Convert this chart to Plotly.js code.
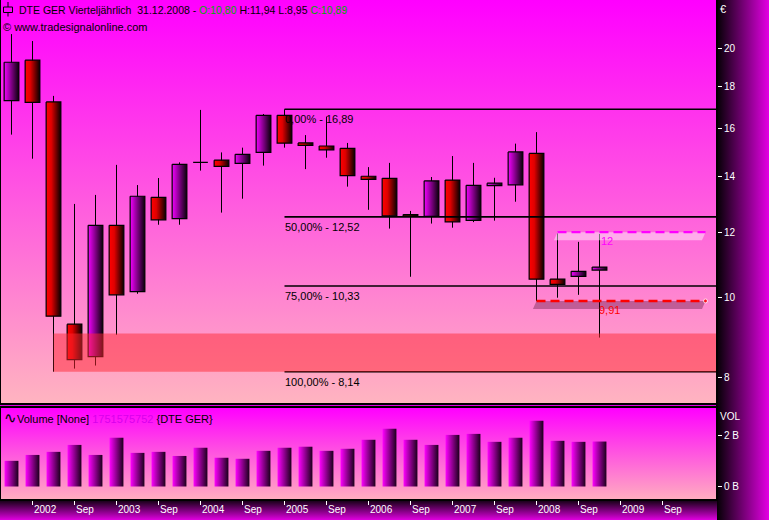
<!DOCTYPE html>
<html><head><meta charset="utf-8">
<script src="https://cdn.plot.ly/plotly-3.0.1.min.js"></script>
<style>html,body{margin:0;padding:0;background:#dd00dd;overflow:hidden}#chart{width:769px;height:520px}</style>
</head><body><div id="chart"></div>
<script>
// ---- data (quarterly candles, Q4 2001 .. Q4 2008) ----
const quarters = ['Q4 2001','Q1 2002','Q2 2002','Q3 2002','Q4 2002','Q1 2003','Q2 2003','Q3 2003','Q4 2003',
  'Q1 2004','Q2 2004','Q3 2004','Q4 2004','Q1 2005','Q2 2005','Q3 2005','Q4 2005','Q1 2006','Q2 2006','Q3 2006',
  'Q4 2006','Q1 2007','Q2 2007','Q3 2007','Q4 2007','Q1 2008','Q2 2008','Q3 2008','Q4 2008'];
const openP  = [17.30,19.36,17.24, 9.29, 8.49,12.23,10.17,13.22,12.46,14.57,14.66,14.53,14.98,16.61,15.38,15.25,15.15,14.02,13.94,12.60,12.54,13.87,12.40,13.66,13.69,14.94,10.53,10.61,10.80];
const highP  = [20.82,20.42,17.53,12.98,13.31,14.47,13.68,13.95,14.57,16.86,14.98,15.18,16.67,16.89,15.72,16.55,15.38,14.38,14.55,12.73,13.99,14.83,14.55,13.96,15.35,15.85,11.96,11.68,11.94];
const lowP   = [15.74,14.72, 8.14, 8.21, 8.28, 9.02,10.11,12.25,12.25,14.24,12.67,13.17,14.44,15.18,14.30,14.76,13.62,12.77,12.12,10.60,12.29,12.15,12.34,12.39,13.06, 9.91,10.00,10.08, 8.95];
const closeP = [19.25,17.22, 9.50, 8.42,12.23,10.08,13.26,12.42,14.49,14.57,14.41,14.90,16.61,15.37,15.28,15.09,14.04,13.90,12.56,12.55,13.84,12.35,13.67,13.75,15.00,10.53,10.38,10.76,10.89];
const volume = [1.00e9,1.23e9,1.35e9,1.62e9,1.23e9,1.90e9,1.31e9,1.35e9,1.19e9,1.51e9,1.12e9,1.08e9,1.39e9,1.51e9,1.55e9,
  1.39e9,1.47e9,1.82e9,2.25e9,1.82e9,1.62e9,2.01e9,2.05e9,1.74e9,1.90e9,2.56e9,1.78e9,1.74e9,1751575752];
const timeTickIdx    = [1,3,5,7,9,11,13,15,17,19,21,23,25,27,29,31];
const timeTickLabels = ['2002','Sep','2003','Sep','2004','Sep','2005','Sep','2006','Sep','2007','Sep','2008','Sep','2009','Sep'];
const priceTicks = [8,10,12,14,16,18,20];
const volTicks = [0,2e9];
const volTickLabels = ['0 B','2 B'];
const fibLevels = [16.89,12.52,10.33,8.14];
const fibPct    = ['0,00%','50,00%','75,00%','100,00%'];
const fibStart = 13;
const zoneLow = 8.14, zoneHigh = 9.05, zoneStart = 2;
const resistance = 12, resistanceStart = 26, resistanceLabel = '12';
const support = 9.91, supportStart = 25, supportLabel = '9,91';
const levelEnd = 33.05;

// ---- helpers ----
const W=769, H=520;
const px = x => x/W, py = y => 1 - y/H;
const fmt = v => v.toFixed(2).replace('.', ',');
function grad(c0, c1, vertical){
  const svg = '<svg xmlns="http://www.w3.org/2000/svg" width="100" height="100" viewBox="0 0 100 100" preserveAspectRatio="none">'+
    '<defs><linearGradient id="g" x1="0" y1="0" x2="'+(vertical?0:1)+'" y2="'+(vertical?1:0)+'">'+
    '<stop offset="0" stop-color="'+c0+'"/><stop offset="1" stop-color="'+c1+'"/></linearGradient></defs>'+
    '<rect width="100" height="100" fill="url(#g)"/></svg>';
  return 'data:image/svg+xml;base64,' + btoa(svg);
}
const n = openP.length;
const hw = 0.35, vhw = 0.33;
const riseScale = [[0,'#f400ff'],[1,'#0a000a']];
const fallScale = [[0,'#ff0000'],[0.35,'#e00000'],[1,'#0a0000']];
const volScale  = [[0,'#ff00ff'],[1,'#1a001a']];
const traces = [];
const base = {type:'scatter', hoverinfo:'skip', showlegend:false};

// wicks
const wx=[], wy=[];
for (let i=0;i<n;i++){ wx.push(i,i,null); wy.push(lowP[i],highP[i],null); }
traces.push(Object.assign({}, base, {mode:'lines', x:wx, y:wy, line:{color:'#000',width:1}}));
// bodies
for (let i=0;i<n;i++){
  const up = closeP[i] >= openP[i];
  const top = Math.max(openP[i],closeP[i]), bot = Math.min(openP[i],closeP[i]);
  traces.push(Object.assign({}, base, {mode:'lines', x:[i-hw,i+hw,i+hw,i-hw,i-hw], y:[top,top,bot,bot,top],
    fill:'toself', fillcolor: up?'#a000b0':'#b00000',
    fillgradient:{type:'horizontal', colorscale: up?riseScale:fallScale, start:i-hw, stop:i+hw},
    line:{color:'#000',width:1.2}}));
}
// fib lines
fibLevels.forEach(l => traces.push(Object.assign({}, base, {mode:'lines', x:[fibStart, 34], y:[l,l], line:{color:'#000',width:1.6}})));
// zone
traces.push(Object.assign({}, base, {mode:'lines', x:[zoneStart,34,34,zoneStart,zoneStart], y:[zoneLow,zoneLow,zoneHigh,zoneHigh,zoneLow],
  fill:'toself', fillcolor:'rgba(255,40,50,0.5)', line:{width:0}}));
// shadows under levels
const shadowK = Math.exp(-8/359.5), slant = 0.17;
traces.push(Object.assign({}, base, {mode:'lines', x:[resistanceStart,levelEnd,levelEnd-slant,resistanceStart-slant,resistanceStart],
  y:[resistance,resistance,resistance*shadowK,resistance*shadowK,resistance], fill:'toself', fillcolor:'rgba(255,255,255,0.45)', line:{width:0}}));
traces.push(Object.assign({}, base, {mode:'lines', x:[supportStart,levelEnd,levelEnd-slant,supportStart-slant,supportStart],
  y:[support,support,support*shadowK,support*shadowK,support], fill:'toself', fillcolor:'rgba(60,0,30,0.32)', line:{width:0}}));
// dashed levels
traces.push(Object.assign({}, base, {mode:'lines', x:[resistanceStart,levelEnd], y:[resistance,resistance], line:{color:'#ff00ff',width:2.2,dash:'9px,5px'}}));
traces.push(Object.assign({}, base, {mode:'lines+markers', x:[supportStart,levelEnd], y:[support,support], line:{color:'#ff0000',width:2.6,dash:'9px,5px'},
  marker:{color:'#ff0000',size:[0,4]}}));
// volume bars
for (let i=0;i<n;i++){
  traces.push(Object.assign({}, base, {xaxis:'x2', yaxis:'y2', mode:'lines', x:[i-vhw,i+vhw,i+vhw,i-vhw,i-vhw], y:[0,0,volume[i],volume[i],0],
    fill:'toself', fillcolor:'#900090', fillgradient:{type:'horizontal', colorscale:volScale, start:i-vhw, stop:i+vhw},
    line:{width:0}}));
}

const xr = [-0.5, -0.5 + 715/21];
const font = 'Liberation Sans, Arial, sans-serif';
const annotations = [];
fibLevels.forEach((l,k) => annotations.push({xref:'x', yref:'y', x:fibStart, y:Math.log10(l), xanchor:'left', yanchor:'top',
  xshift:-2, yshift:-2, showarrow:false, text: fibPct[k]+' - '+fmt(l), font:{size:11, color:'#000'}}));
annotations.push({xref:'x', yref:'y', x:27.96, y:Math.log10(resistance), xanchor:'left', yanchor:'top', yshift:-1, showarrow:false,
  text:resistanceLabel, font:{size:11,color:'#ff00ff'}});
annotations.push({xref:'x', yref:'y', x:27.88, y:Math.log10(support), xanchor:'left', yanchor:'top', yshift:-1, showarrow:false,
  text:supportLabel, font:{size:11,color:'#ff0000'}});
const L = n-1;
annotations.push({xref:'paper', yref:'paper', x:px(17), y:py(10), xanchor:'left', yanchor:'middle', showarrow:false, font:{size:10.5,color:'#000'},
  text:'DTE GER Vierteljährlich\u00a0 31.12.2008 - <span style="color:#00a800">O:'+fmt(openP[L])+'</span> H:'+fmt(highP[L])+' L:'+fmt(lowP[L])+
  ' <span style="color:#00a800">C:'+fmt(closeP[L])+'</span>'});
annotations.push({xref:'paper', yref:'paper', x:px(1), y:py(27), xanchor:'left', yanchor:'middle', showarrow:false, font:{size:11,color:'#000'},
  text:'© www.tradesignalonline.com'});
annotations.push({xref:'paper', yref:'paper', x:px(2), y:py(417), xanchor:'left', yanchor:'middle', showarrow:false, font:{size:11,color:'#000'},
  text:'<span style="font-size:15px">∿</span>Volume [None] <span style="color:#d800ec">'+Math.round(volume[L])+'</span> {DTE GER}'});
annotations.push({xref:'paper', yref:'paper', x:px(718), y:py(9), xanchor:'left', yanchor:'middle', showarrow:false, font:{size:11,color:'#fff'}, text:'€'});
annotations.push({xref:'paper', yref:'paper', x:px(718), y:py(416), xanchor:'left', yanchor:'middle', showarrow:false, font:{size:10,color:'#fff'}, text:'VOL'});

const axLine = {showline:true, mirror:true, linecolor:'#000', linewidth:2, showgrid:false, zeroline:false, fixedrange:true};
const layout = {
  width:W, height:H, margin:{l:0,r:0,t:0,b:0}, paper_bgcolor:'#dd00dd', plot_bgcolor:'rgba(0,0,0,0)', showlegend:false,
  font:{family:font, size:10, color:'#000'},
  xaxis: Object.assign({}, axLine, {domain:[px(1),px(716)], range:xr, showticklabels:false, ticks:''}),
  yaxis: Object.assign({}, axLine, {domain:[py(403),1], type:'log', range:[Math.log10(10*Math.exp(-105.3/359.5)), Math.log10(10*Math.exp(297.7/359.5))],
    side:'right', tickvals:priceTicks, ticktext:priceTicks.map(String), ticks:'outside', ticklen:4, tickcolor:'#fff', tickwidth:1,
    tickfont:{color:'#fff', size:10}}),
  xaxis2: Object.assign({}, axLine, {domain:[px(1),px(716)], range:xr, anchor:'y2', tickvals:timeTickIdx, ticktext:timeTickLabels,
    ticks:'outside', ticklen:4, tickcolor:'#fff', tickwidth:1, tickfont:{color:'#fff', size:10}, ticklabelposition:'outside right'}),
  yaxis2: Object.assign({}, axLine, {domain:[py(499),py(408)], anchor:'x2', range:[-(499-486.5)/25.67*1e9, (486.5-408)/25.67*1e9], side:'right',
    tickvals:volTicks, ticktext:volTickLabels, ticks:'outside', ticklen:4, tickcolor:'#fff', tickwidth:1, tickfont:{color:'#fff', size:10}}),
  images: [
    {source:grad('#ff00ff','#ffb4c0',true), xref:'paper', yref:'paper', x:px(1), y:1, sizex:px(715), sizey:403/H, xanchor:'left', yanchor:'top', sizing:'stretch', layer:'below'},
    {source:grad('#ff00ff','#ffacc0',true), xref:'paper', yref:'paper', x:px(1), y:py(408), sizex:px(715), sizey:91/H, xanchor:'left', yanchor:'top', sizing:'stretch', layer:'below'},
    {source:grad('#000000','#e400e4',false), xref:'paper', yref:'paper', x:px(716), y:1, sizex:53/W, sizey:1, xanchor:'left', yanchor:'top', sizing:'stretch', layer:'below'},
    {source:grad('#100010','#e000e0',true), xref:'paper', yref:'paper', x:0, y:py(500), sizex:px(717), sizey:20/H, xanchor:'left', yanchor:'top', sizing:'stretch', layer:'below'}
  ],
  shapes: [
    {type:'line', xref:'paper', yref:'paper', x0:px(8), x1:px(8), y0:py(2), y1:py(16.5), line:{color:'#000',width:1}},
    {type:'rect', xref:'paper', yref:'paper', x0:px(3.5), x1:px(12.5), y0:py(7), y1:py(12.5), fillcolor:'#ff00ff', line:{color:'#000',width:1}}
  ],
  annotations: annotations
};
Plotly.newPlot('chart', traces, layout, {staticPlot:true, displayModeBar:false});
</script></body></html>
